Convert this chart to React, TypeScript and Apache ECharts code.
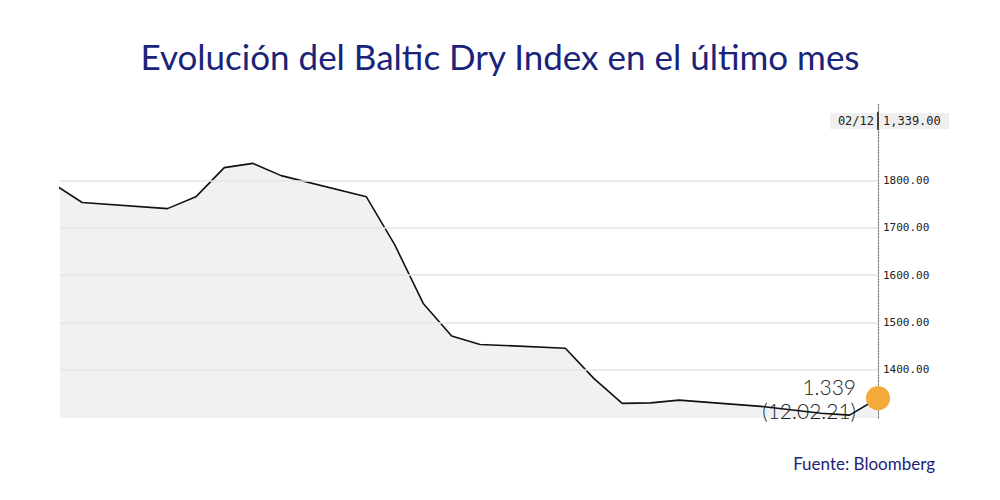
import React, { useEffect, useRef } from "react";
import * as echarts from "echarts";

const dates: string[] = [
  "2021-01-14", "2021-01-15", "2021-01-18", "2021-01-19", "2021-01-20", "2021-01-21",
  "2021-01-22", "2021-01-25", "2021-01-26", "2021-01-27", "2021-01-28", "2021-01-29",
  "2021-02-01", "2021-02-02", "2021-02-03", "2021-02-04", "2021-02-05", "2021-02-08",
  "2021-02-09", "2021-02-10", "2021-02-11", "2021-02-12",
];
const values: number[] = [
  1793, 1754, 1741, 1766, 1828, 1837,
  1811, 1766, 1664, 1540, 1471, 1453,
  1445, 1381, 1328, 1329, 1335, 1321,
  1314, 1307, 1303, 1339,
];
const yTicks: number[] = [1400, 1500, 1600, 1700, 1800];
const titleText = "Evolución del Baltic Dry Index en el último mes";
const sourceText = "Fuente: Bloomberg";

const toMs = (s: string) => {
  const [y, m, d] = s.split("-").map(Number);
  return Date.UTC(y, m - 1, d);
};

export default function App() {
  const ref = useRef<HTMLDivElement>(null);
  useEffect(() => {
    if (!ref.current) return;
    const chart = echarts.init(ref.current, undefined, { renderer: "svg" });
    const times = dates.map(toMs);
    const lastT = times[times.length - 1];
    const lastV = values[values.length - 1];
    const [ly, lm, ld] = dates[dates.length - 1].split("-");
    const topDate = `${lm}/${ld}`;
    const topVal = lastV.toLocaleString("en-US", { minimumFractionDigits: 2, maximumFractionDigits: 2 });
    const annVal = lastV.toLocaleString("de-DE");
    const annDate = `(${ld}.${lm}.${ly.slice(2)})`;
    const day = 86400000;
    const monoFont = "DejaVu Sans Mono";
    const seriesData = times.map((t, i) => [t, values[i]]);

    chart.setOption({
      animation: false,
      backgroundColor: "#ffffff",
      title: {
        text: titleText,
        left: "center",
        top: 33,
        textStyle: {
          fontFamily: "Lato",
          fontSize: 35,
          fontWeight: "normal",
          color: "#1a2479",
        },
      },
      grid: { left: 60, right: 122, top: 103, bottom: 82 },
      xAxis: {
        type: "time",
        min: toMs("2021-01-15") - 0.78 * day,
        max: lastT,
        axisLine: { show: false },
        axisTick: { show: false },
        axisLabel: { show: false },
        splitLine: { show: false },
      },
      yAxis: {
        type: "value",
        position: "right",
        min: 1297,
        max: 1965,
        axisLine: {
          show: true,
          lineStyle: { color: "#777", type: [1.5, 1.5], width: 1.2 },
        },
        axisTick: { show: false },
        splitLine: { show: false },
        axisLabel: {
          customValues: yTicks,
          formatter: (v: number) => v.toFixed(2),
          fontFamily: monoFont,
          fontSize: 11,
          color: "#222",
          margin: 5,
        },
      },
      series: [
        {
          type: "line",
          data: seriesData,
          symbol: "none",
          clip: true,
          lineStyle: { width: 0, opacity: 0 },
          areaStyle: { color: "#f1f1f1", origin: "start", opacity: 1 },
          markLine: {
            silent: true,
            symbol: "none",
            label: { show: false },
            lineStyle: { color: "#e4e4e4", type: "solid", width: 1.5 },
            data: yTicks.map((v) => ({ yAxis: v })),
          },
          z: 1,
        },
        {
          type: "scatter",
          data: [[lastT, lastV]],
          symbolSize: 24,
          itemStyle: { color: "#f4a93b", opacity: 1 },
          clip: false,
          z: 2,
          label: {
            show: true,
            position: "left",
            distance: 10,
            formatter: `{a|${annVal}}\n{b|${annDate}}`,
            rich: {
              a: { fontFamily: "Lato", fontWeight: 300, fontSize: 21, color: "#222", align: "right", lineHeight: 24 },
              b: { fontFamily: "Lato", fontWeight: 300, fontSize: 21, color: "#222", align: "right", lineHeight: 24 },
            },
          },
        },
        {
          type: "line",
          data: seriesData,
          symbol: "none",
          clip: true,
          lineStyle: { color: "#111", width: 1.6 },
          z: 3,
        },
        {
          type: "scatter",
          data: [[lastT, lastV]],
          symbolSize: 24,
          itemStyle: { color: "#f4a93b", opacity: 1 },
          clip: false,
          silent: true,
          z: 4,
        },
      ],
      graphic: [
        {
          type: "rect",
          shape: { x: 830, y: 113, width: 119, height: 16 },
          style: { fill: "#efefef" },
          z: 10,
        },
        {
          type: "line",
          shape: { x1: 878, y1: 112, x2: 878, y2: 130 },
          style: { stroke: "#444", lineWidth: 2 },
          z: 11,
        },
        {
          type: "text",
          x: 874,
          y: 121,
          style: {
            text: topDate,
            align: "right",
            verticalAlign: "middle",
            fontFamily: monoFont,
            fontSize: 12,
            fill: "#222",
          },
          z: 11,
        },
        {
          type: "text",
          x: 883,
          y: 121,
          style: {
            text: topVal,
            align: "left",
            verticalAlign: "middle",
            fontFamily: monoFont,
            fontSize: 12,
            fill: "#222",
          },
          z: 11,
        },
        {
          type: "text",
          x: 935,
          y: 463,
          style: {
            text: sourceText,
            align: "right",
            verticalAlign: "middle",
            fontFamily: "Lato",
            fontSize: 17,
            fill: "#1a2479",
          },
        },
      ],
    });
    return () => chart.dispose();
  }, []);
  return (
    <div
      ref={ref}
      style={{ position: "absolute", left: 0, top: 0, width: 1000, height: 500 }}
    />
  );
}
